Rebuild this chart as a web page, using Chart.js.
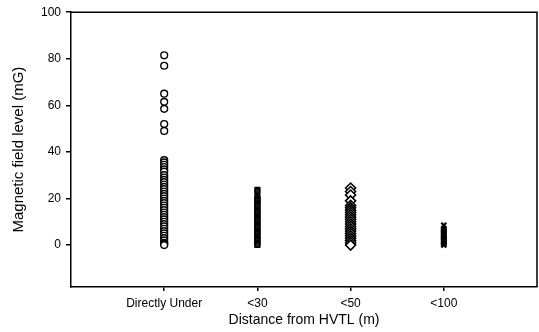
<!DOCTYPE html>
<html>
<head>
<meta charset="utf-8">
<script src="https://cdn.jsdelivr.net/npm/chart.js@4/dist/chart.umd.min.js"></script>
<style>
  html, body { margin: 0; padding: 0; background: #fff; }
  #wrap { width: 539px; height: 332px; }
</style>
</head>
<body>
<div id="wrap"><canvas id="myChartField"></canvas></div>
<script>
var categories = ['Directly Under', '<30', '<50', '<100'];
var yTicks = [0, 20, 40, 60, 80, 100];

var underValues = [81.5, 77, 65, 61.5, 58.5, 52, 49, 36.5, 35.5, 34.5, 33.5, 32.5, 31.5, 30, 29, 28, 27, 26, 25,
    24, 23, 22, 21, 20, 19, 18, 17, 16, 15, 14, 13, 12, 11, 10, 9, 8, 7, 6, 5, 4, 3, 2, 1, 0.5, 0];
var lt30Values = [23.8, 23.2, 21, 20, 19.5, 19, 18, 17.5, 17, 16, 15, 14.5, 14, 13, 12, 11.5, 11, 10, 9, 8.5,
    8, 7, 6, 5.5, 5, 4, 3, 2.5, 2, 1, 0.5, 0];
var lt50Values = [24.5, 23, 21.5, 19, 17, 16, 15, 14, 13, 12, 11, 10, 9, 8, 7, 6, 5, 4, 3, 2, 1, 0];
var lt100Values = [8.5, 7, 6.5, 6, 5.5, 5, 4.5, 4, 3.5, 3, 2.5, 2, 1.5, 1, 0.5, 0];

function toPoints(values, pos) {
    return values.map(function (v) { return { x: pos, y: v }; });
}

var frame = {
    id: 'frame',
    afterDraw: function (chart) {
        var a = chart.chartArea, c = chart.ctx;
        c.save();
        c.strokeStyle = '#000';
        c.lineWidth = 1.5;
        c.beginPath();
        c.moveTo(a.left, a.top);
        c.lineTo(a.right, a.top);
        c.lineTo(a.right, a.bottom);
        c.stroke();
        c.restore();
    }
};

var ctx = document.getElementById('myChartField').getContext('2d');
var myChartField = new Chart(ctx, {
    type: 'scatter',
    data: {
        datasets: [{
            label: categories[0],
            data: toPoints(underValues, 1),
            pointStyle: 'circle',
            pointRadius: 3.4,
            borderColor: '#000',
            backgroundColor: '#fff',
            borderWidth: 1.4
        }, {
            label: categories[1],
            data: toPoints(lt30Values, 2),
            pointStyle: 'rect',
            pointRadius: 3.2,
            borderColor: '#000',
            backgroundColor: '#222',
            borderWidth: 1.5
        }, {
            label: categories[2],
            data: toPoints(lt50Values, 3),
            pointStyle: 'rectRot',
            pointRadius: 5,
            borderColor: '#000',
            backgroundColor: '#fff',
            borderWidth: 1.6
        }, {
            label: categories[3],
            data: toPoints(lt100Values, 4),
            pointStyle: 'crossRot',
            pointRadius: 3.5,
            borderColor: '#000',
            borderWidth: 2.2
        }]
    },
    options: {
        responsive: true,
        maintainAspectRatio: false,
        animation: false,
        layout: { autoPadding: false, padding: { left: 0, right: 2, top: 12, bottom: 0 } },
        plugins: {
            legend: { display: false },
            tooltip: { enabled: false }
        },
        scales: {
            x: {
                type: 'linear',
                min: 0,
                max: 5,
                afterBuildTicks: function (axis) {
                    axis.ticks = categories.map(function (c, i) { return { value: i + 1 }; });
                },
                afterFit: function (axis) {
                    axis.height = 45;
                    axis.paddingRight = 0;
                    axis.paddingLeft = 0;
                },
                ticks: {
                    color: '#000',
                    padding: 5,
                    font: { family: 'Liberation Sans', size: 12 },
                    callback: function (v) { return categories[v - 1]; }
                },
                grid: { drawOnChartArea: false, tickLength: 4, color: '#000', lineWidth: 1.5 },
                border: { color: '#000', width: 1.5 },
                title: {
                    display: true,
                    text: 'Distance from HVTL (m)',
                    color: '#000',
                    font: { family: 'Liberation Sans', size: 14 },
                    padding: { top: 0, bottom: 3 }
                }
            },
            y: {
                min: -18,
                max: 100,
                afterBuildTicks: function (axis) {
                    axis.ticks = yTicks.map(function (v) { return { value: v }; });
                },
                afterFit: function (axis) { axis.width = 71; },
                ticks: {
                    color: '#000',
                    padding: 5,
                    font: { family: 'Liberation Sans', size: 12 }
                },
                grid: { drawOnChartArea: false, tickLength: 5, color: '#000', lineWidth: 1.5 },
                border: { color: '#000', width: 1.5 },
                title: {
                    display: true,
                    text: 'Magnetic field level (mG)',
                    color: '#000',
                    font: { family: 'Liberation Sans', size: 15 },
                    padding: { top: 10, bottom: 0 }
                }
            }
        }
    },
    plugins: [frame]
});
</script>
</body>
</html>
